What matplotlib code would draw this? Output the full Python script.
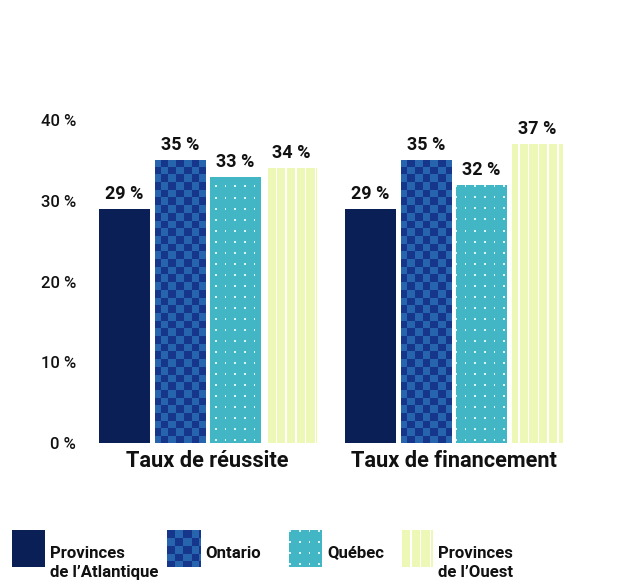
import numpy as np
import matplotlib
matplotlib.use("Agg")
import matplotlib.pyplot as plt

plt.rcParams['font.family'] = ['Roboto', 'DejaVu Sans']

categories = ["Taux de réussite", "Taux de financement"]
series = ["Provinces\nde l’Atlantique", "Ontario", "Québec", "Provinces\nde l’Ouest"]
values = {
    "Provinces\nde l’Atlantique": [29, 29],
    "Ontario": [35, 35],
    "Québec": [33, 32],
    "Provinces\nde l’Ouest": [34, 37],
}
yticks = [0, 10, 20, 30, 40]
ytick_labels = ["0 %", "10 %", "20 %", "30 %", "40 %"]

NAVY = "#0b1f57"
CHK_DARK, CHK_LIGHT = "#15368b", "#2764ae"
TEAL = "#42b6c5"
YEL = "#eef8b6"


def rgb(c):
    return np.array(matplotlib.colors.to_rgb(c))


def texture(kind, h, w):
    ii, jj = np.mgrid[0:h, 0:w]
    img = np.zeros((h, w, 3))
    if kind == 0:
        img[:] = rgb(NAVY)
    elif kind == 1:
        m = ((np.floor(ii / 7.7) + np.floor(jj / 7.7)) % 2).astype(bool)
        img[:] = rgb(CHK_DARK)
        img[m] = rgb(CHK_LIGHT)
    elif kind == 2:
        img[:] = rgb(TEAL)
        m = ((jj % 9.6) < 1.6) & ((ii % 11) < 1.6)
        img[m] = (0.86, 0.95, 0.97)
    else:
        img[:] = rgb(YEL)
        m = (jj % 9.7) < 1.5
        img[m] = (1, 1, 1)
    return img


W, H = 621, 584
fig = plt.figure(figsize=(W / 100, H / 100), dpi=100)
ax_l, ax_r, ax_b, ax_t = 90, 570, 443, 120
ax = fig.add_axes([ax_l / W, 1 - ax_b / H, (ax_r - ax_l) / W, (ax_b - ax_t) / H])
xlim = ((ax_l - 207.5) / 246, (ax_r - 207.5) / 246)
ylim = (0, 40)
px_per_unit = (ax_b - ax_t) / (ylim[1] - ylim[0])

step = 55.5 / 246
width = 50.5 / 246
offsets = (np.arange(len(series)) - 1.5) * step
x = np.arange(len(categories))

pw, ph = ax_r - ax_l, ax_b - ax_t
for k, s in enumerate(series):
    bars = ax.bar(x + offsets[k], values[s], width=width, color="none", edgecolor="none")
    tex = texture(k, ph, pw)
    for b, v in zip(bars, values[s]):
        im = ax.imshow(tex, extent=(xlim[0], xlim[1], ylim[0], ylim[1]),
                       interpolation="nearest", aspect="auto", zorder=1)
        im.set_clip_path(b)
        ax.text(b.get_x() + b.get_width() / 2, v + 10 / px_per_unit, f"{v} %",
                ha="center", va="baseline",
                fontsize=13, fontweight="bold", color="#111111")

ax.set_xlim(*xlim)
ax.set_ylim(*ylim)
ax.set_yticks(yticks)
ax.set_yticklabels(ytick_labels, fontsize=12, fontweight="medium", color="#111111")
ax.set_xticks(x)
ax.set_xticklabels(categories, fontsize=15.7, fontweight="bold", color="#111111")
ax.tick_params(axis="both", length=0)
ax.tick_params(axis="y", pad=10)
ax.tick_params(axis="x", pad=5)
for sp in ax.spines.values():
    sp.set_visible(False)

# legend
sw_x = [12, 167, 289, 400]
sw_w, sw_top, sw_bot = 33, 530, 567
for k, s in enumerate(series):
    lax = fig.add_axes([sw_x[k] / W, 1 - sw_bot / H, sw_w / W, (sw_bot - sw_top) / H])
    lax.imshow(texture(k, sw_bot - sw_top, sw_w), interpolation="nearest", aspect="auto")
    lax.axis("off")
    if "\n" in s:
        fig.text((sw_x[k] + sw_w + 5) / W, 1 - 563 / H, s, ha="left", va="center",
                 fontsize=12.1, fontweight="bold", color="#111111", linespacing=1.3)
    else:
        fig.text((sw_x[k] + sw_w + 5) / W, 1 - 553 / H, s, ha="left", va="center",
                 fontsize=12.1, fontweight="bold", color="#111111")

fig.savefig("out.png", dpi=100, facecolor="white")
